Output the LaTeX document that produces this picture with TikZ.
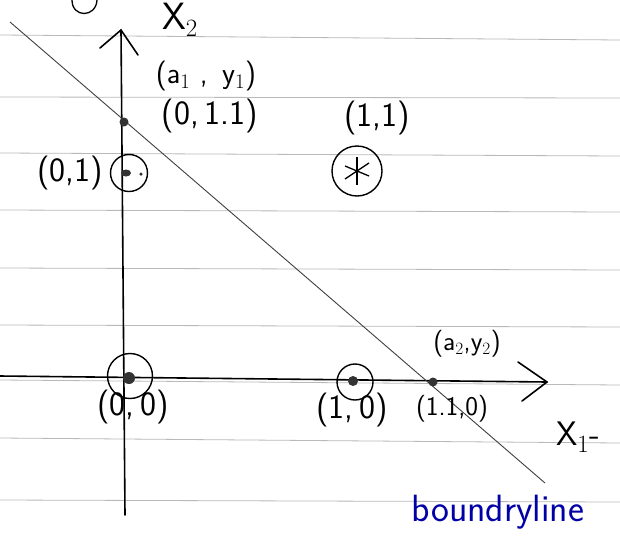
\documentclass[tikz,border=0pt]{standalone}
\usetikzlibrary{shapes.geometric}
\begin{document}
\begin{tikzpicture}[x=1pt,y=-1pt,
  font=\sffamily\fontsize{34}{36}\selectfont,
  rule/.style={gray!55, line width=0.8pt},
  axis/.style={line width=1.6pt, black, line cap=round, line join=round},
  bline/.style={line width=0.9pt, black!75},
  ring/.style={circle, draw, line width=1.4pt, inner sep=0pt},
  dotpt/.style={circle, fill=black!80, inner sep=0pt},
  lbl/.style={inner sep=1pt},
  small/.style={font=\sffamily\fontsize{27}{29}\selectfont}]
\useasboundingbox (0,0) rectangle (620,544);
\fill[white] (0,0) rectangle (620,544);
% ruled paper
\foreach \ya/\yb in {35/40, 97/98, 153/156, 210/212, 268/270, 325/327, 380/385, 438/443, 500/502}
  \draw[rule] (0,\ya) -- (620,\yb);
% cut-off letter at top
\draw[line width=1.3pt] (72,0) .. controls (72,18) and (96,18) .. (97,0);
% axes
\coordinate (ybot) at (125,515);
\coordinate (ytop) at (121,30);
\coordinate (yl) at (100,48);
\coordinate (yr) at (138,55);
\draw[axis] (ybot) -- (ytop);
\draw[axis] (yl) -- (ytop) -- (yr);
\coordinate (xl) at (0,376);
\coordinate (xr) at (547,382);
\coordinate (xu) at (518,362);
\coordinate (xd) at (522,401);
\draw[axis] (xl) -- (xr);
\draw[axis] (xu) -- (xr) -- (xd);
% boundary line
\coordinate (b1) at (10,22);
\coordinate (b2) at (545,483);
\draw[bline] (b1) -- (b2);
% points
\node[dotpt, minimum size=9pt] (p011) at (124,122) {};
\node[ring, minimum size=37pt] (p01) at (129,173) {};
\node[fill=black!80, inner sep=0pt, ellipse, minimum width=10pt, minimum height=7pt] (p01d) at (126,173) {};
\node[dotpt, minimum size=3.5pt] (p01s) at (141,174) {};
\node[ring, minimum size=45pt] (p00) at (130,376) {};
\node[dotpt, minimum size=12pt] (p00d) at (129,378) {};
\node[ring, minimum size=36pt] (p10) at (355,382) {};
\node[dotpt, minimum size=10pt] (p10d) at (353,381) {};
\node[dotpt, minimum size=9pt] (p110) at (433,382) {};
\node[ring, minimum size=50pt] (p11) at (357,171) {};
\draw[line width=1.3pt] (p11.center) ++(-12,-5) -- ++(24,10);
\draw[line width=1.3pt] (p11.center) ++(0,-14) -- ++(0,28);
\draw[line width=1.3pt] (p11.center) ++(-12,8) -- ++(24,-16);
% labels
\node[lbl, font=\sffamily\fontsize{38}{40}\selectfont] (lx2) at (180,20) {X$_2$};
\node[lbl, font=\sffamily\fontsize{30}{32}\selectfont] (la1) at (206,76) {(a$_1$ ,\, y$_1$)};
\node[lbl] (l011) at (210,116) {(0,\,1.1)};
\node[lbl] (l11) at (377,118) {(1,1)};
\node[lbl] (l01) at (70,173) {(0,1)};
\node[lbl] (l00) at (133,407) {(0,\,0)};
\node[lbl] (l10) at (352,410) {(1,\,0)};
\node[lbl, small] (l110) at (452,409) {(1.1,0)};
\node[lbl, small] (la2) at (467,344) {(a$_2$,y$_2$)};
\node[lbl] (lx1) at (578,437) {X$_1$-};
\node[lbl, text=blue!65!black, font=\sffamily\fontsize{38}{40}\selectfont] (lb) at (498,512) {boundryline};
\end{tikzpicture}
\end{document}
